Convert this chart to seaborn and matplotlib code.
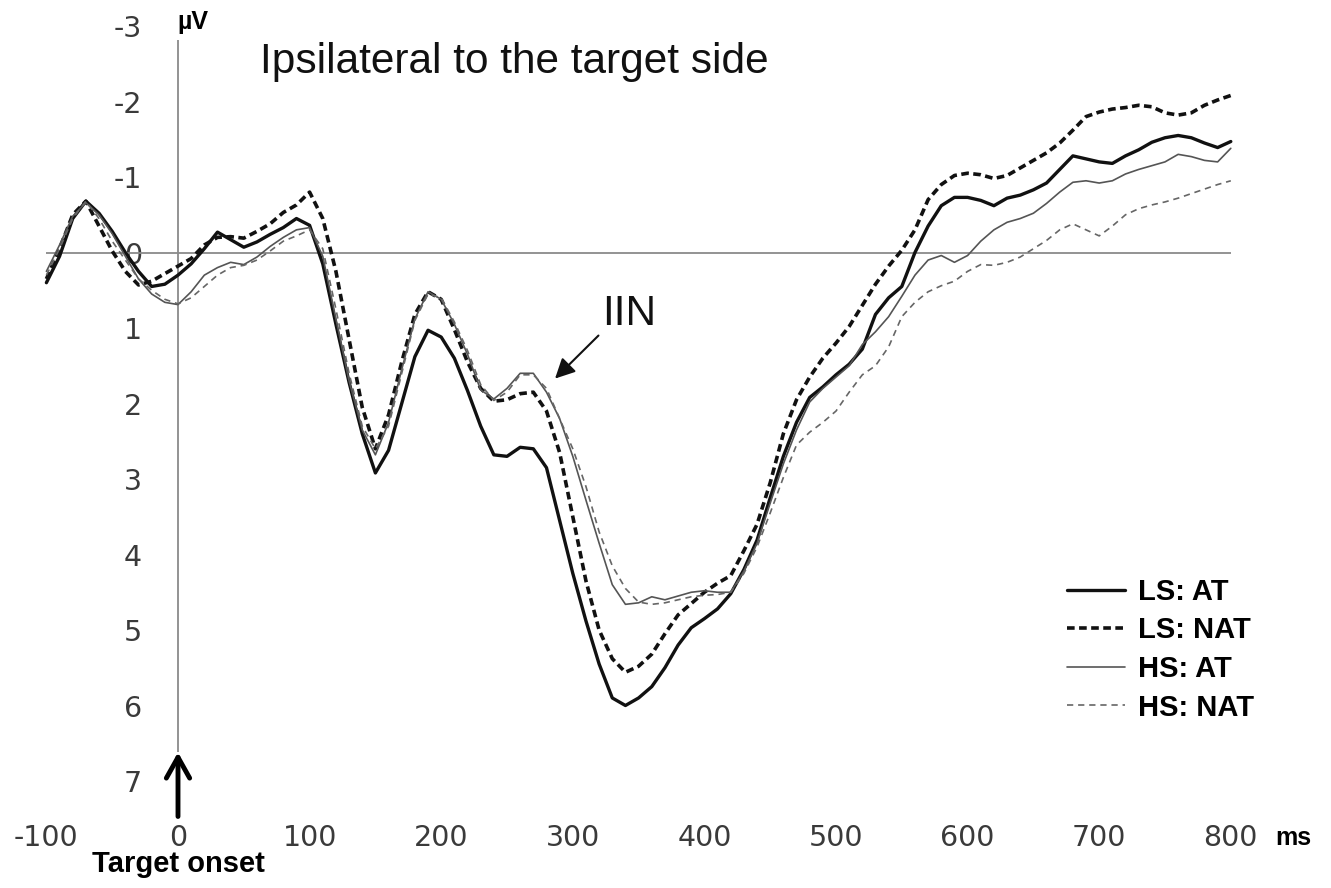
import matplotlib
matplotlib.use("Agg")
import matplotlib.pyplot as plt
import numpy as np
import pandas as pd
import seaborn as sns

# ---------------- data ----------------
time_ms = list(range(-100, 801, 10))

ls_at = [0.40, 0.05, -0.45, -0.68, -0.52, -0.28, 0.00, 0.25, 0.45, 0.42,
         0.30, 0.15, -0.05, -0.27, -0.17, -0.07, -0.14, -0.24, -0.33, -0.45,
         -0.36, 0.15, 0.95, 1.72, 2.40, 2.92, 2.62, 2.00, 1.38, 1.03,
         1.12, 1.40, 1.83, 2.30, 2.68, 2.70, 2.58, 2.60, 2.85, 3.55,
         4.25, 4.88, 5.45, 5.90, 6.00, 5.90, 5.75, 5.50, 5.20, 4.97,
         4.85, 4.72, 4.52, 4.20, 3.81, 3.25, 2.70, 2.25, 1.92, 1.78,
         1.62, 1.48, 1.28, 0.82, 0.60, 0.45, 0.00, -0.35, -0.62, -0.73,
         -0.73, -0.69, -0.62, -0.72, -0.76, -0.83, -0.92, -1.10, -1.28, -1.24,
         -1.20, -1.18, -1.28, -1.36, -1.46, -1.52, -1.55, -1.52, -1.45, -1.39,
         -1.47]

ls_nat = [0.35, -0.05, -0.50, -0.68, -0.35, -0.02, 0.25, 0.43, 0.38, 0.28,
          0.18, 0.08, -0.10, -0.20, -0.21, -0.19, -0.28, -0.38, -0.53, -0.63,
          -0.80, -0.45, 0.25, 1.15, 2.05, 2.60, 2.15, 1.45, 0.82, 0.52,
          0.62, 1.02, 1.45, 1.80, 1.97, 1.95, 1.87, 1.85, 2.10, 2.65,
          3.50, 4.35, 5.00, 5.38, 5.56, 5.48, 5.32, 5.05, 4.80, 4.65,
          4.50, 4.38, 4.28, 3.95, 3.60, 3.05, 2.40, 1.95, 1.65, 1.40,
          1.20, 0.98, 0.70, 0.42, 0.18, -0.03, -0.30, -0.70, -0.90, -1.02,
          -1.05, -1.03, -0.98, -1.02, -1.12, -1.22, -1.32, -1.45, -1.62, -1.80,
          -1.86, -1.90, -1.92, -1.95, -1.93, -1.85, -1.82, -1.85, -1.95, -2.02,
          -2.08]

hs_at = [0.25, -0.10, -0.48, -0.66, -0.50, -0.25, 0.05, 0.35, 0.55, 0.66,
         0.69, 0.52, 0.30, 0.20, 0.13, 0.16, 0.06, -0.08, -0.20, -0.30,
         -0.33, 0.05, 0.88, 1.70, 2.35, 2.68, 2.25, 1.55, 0.88, 0.52,
         0.62, 0.95, 1.35, 1.82, 1.94, 1.80, 1.60, 1.60, 1.85, 2.20,
         2.70, 3.28, 3.85, 4.40, 4.66, 4.64, 4.56, 4.60, 4.55, 4.50,
         4.48, 4.50, 4.50, 4.22, 3.85, 3.32, 2.80, 2.35, 1.98, 1.80,
         1.65, 1.50, 1.22, 1.05, 0.85, 0.58, 0.30, 0.10, 0.04, 0.13,
         0.04, -0.15, -0.30, -0.40, -0.45, -0.52, -0.65, -0.80, -0.93, -0.95,
         -0.92, -0.95, -1.04, -1.10, -1.15, -1.20, -1.30, -1.27, -1.22, -1.20,
         -1.38]

hs_nat = [0.30, -0.05, -0.45, -0.68, -0.45, -0.15, 0.10, 0.35, 0.50, 0.62,
          0.68, 0.60, 0.45, 0.30, 0.20, 0.17, 0.10, -0.02, -0.15, -0.22,
          -0.30, -0.05, 0.75, 1.60, 2.30, 2.60, 2.30, 1.60, 0.90, 0.55,
          0.60, 0.92, 1.30, 1.75, 1.96, 1.85, 1.62, 1.62, 1.80, 2.20,
          2.60, 3.10, 3.70, 4.15, 4.45, 4.63, 4.66, 4.64, 4.60, 4.56,
          4.54, 4.53, 4.50, 4.25, 3.90, 3.45, 2.98, 2.55, 2.38, 2.25,
          2.10, 1.85, 1.62, 1.50, 1.25, 0.85, 0.66, 0.52, 0.44, 0.38,
          0.25, 0.16, 0.17, 0.13, 0.06, -0.05, -0.16, -0.30, -0.38, -0.30,
          -0.22, -0.35, -0.50, -0.58, -0.63, -0.67, -0.72, -0.78, -0.84, -0.90,
          -0.95]

series_labels = ["LS: AT", "LS: NAT", "HS: AT", "HS: NAT"]
x_ticks = list(range(-100, 801, 100))
y_ticks = list(range(-3, 8))

# ---------------- style ----------------
sns.set_style("white")
plt.rcParams["font.family"] = ["DejaVu Sans"]
plt.rcParams["axes.unicode_minus"] = False
plt.rcParams["lines.scale_dashes"] = False

W, H = 1331, 888
fig = plt.figure(figsize=(W / 100, H / 100), dpi=100)

# pixel layout of axes
L, R, T, B = 40, 1240, 10, 800
x0_px, px_per_ms = 178.0, 1.316
y0_px, px_per_uv = 252.5, 75.5
ax = fig.add_axes([L / W, (H - B) / H, (R - L) / W, (B - T) / H])
ax.set_xlim((L - x0_px) / px_per_ms, (R - x0_px) / px_per_ms)
ax.set_ylim((B - y0_px) / px_per_uv, (T - y0_px) / px_per_uv)

df = pd.DataFrame({"t": time_ms, "LS: AT": ls_at, "LS: NAT": ls_nat,
                   "HS: AT": hs_at, "HS: NAT": hs_nat})

styles = {
    "LS: AT": dict(color="#111111", linewidth=2.4, linestyle="-"),
    "LS: NAT": dict(color="#111111", linewidth=2.6, linestyle=(0, (5.5, 3.2))),
    "HS: AT": dict(color="#555555", linewidth=1.2, linestyle="-"),
    "HS: NAT": dict(color="#666666", linewidth=1.2, linestyle=(0, (4.5, 3.5))),
}

# reference lines (zero line and vertical axis at 0 ms)
ax.hlines(0, time_ms[0], time_ms[-1], color="#8a8a8a", linewidth=1.3, zorder=1)
ax.vlines(0, -2.82, 6.62, color="#8a8a8a", linewidth=1.3, zorder=1)

for name in series_labels:
    sns.lineplot(data=df, x="t", y=name, ax=ax, estimator=None, sort=False,
                 label=name, zorder=3, **styles[name])

# axes / ticks
for s in ax.spines.values():
    s.set_visible(False)
ax.spines["left"].set_position(("data", 0))
ax.set_xticks(x_ticks)
ax.set_xticklabels([str(v) for v in x_ticks])
ax.set_yticks(y_ticks)
ax.set_yticklabels([str(v) for v in y_ticks])
ax.tick_params(axis="both", length=0, labelsize=20.5, labelcolor="#3a3a3a")
ax.tick_params(axis="y", pad=26)
ax.tick_params(axis="x", pad=17)
ax.set_xlabel("")
ax.set_ylabel("")
ax.grid(False)

# units
ax.text(-0.4, -3.05, "\u00b5V", fontsize=18, fontweight="bold",
        family=["Liberation Sans", "DejaVu Sans"], ha="left", va="center", color="black")
ax.text(834, 7.75, "ms", fontsize=18, fontweight="bold",
        family=["Liberation Sans", "DejaVu Sans"], ha="left", va="center",
        color="black", clip_on=False)

# title
ax.text(62, -2.38, "Ipsilateral to the target side", fontsize=30.5,
        family=["Liberation Sans", "DejaVu Sans"], ha="left", va="baseline",
        color="#111111")

# IIN annotation
ax.annotate("", xy=(286.5, 1.67), xytext=(319.5, 1.10),
            arrowprops=dict(arrowstyle="-|>,head_length=0.6,head_width=0.3",
                            color="#111111", lw=1.5, shrinkA=0, shrinkB=0,
                            mutation_scale=20))
ax.text(343, 0.81, "IIN", fontsize=30.5, family=["Liberation Sans", "DejaVu Sans"],
        ha="center", va="center", color="#111111")

# target onset arrow
ax.annotate("", xy=(0, 6.62), xytext=(0, 7.47),
            arrowprops=dict(arrowstyle="->,head_length=0.75,head_width=0.42",
                            color="black", lw=3.5, shrinkA=0, shrinkB=0,
                            mutation_scale=20),
            annotation_clip=False)
ax.text(0, 8.1, "Target onset", fontsize=21, fontweight="bold",
        family=["Liberation Sans", "DejaVu Sans"], ha="center", va="center",
        color="black", clip_on=False)

# legend
leg = ax.legend(loc="upper left", bbox_to_anchor=((1067 - L) / (R - L), (B - 578) / (B - T)),
                frameon=False, handlelength=2.0, handletextpad=0.45,
                labelspacing=0.36, borderpad=0, borderaxespad=0,
                prop={"family": "Liberation Sans", "weight": "bold", "size": 21})
for t in leg.get_texts():
    t.set_color("black")

fig.savefig("out.png", dpi=100)
